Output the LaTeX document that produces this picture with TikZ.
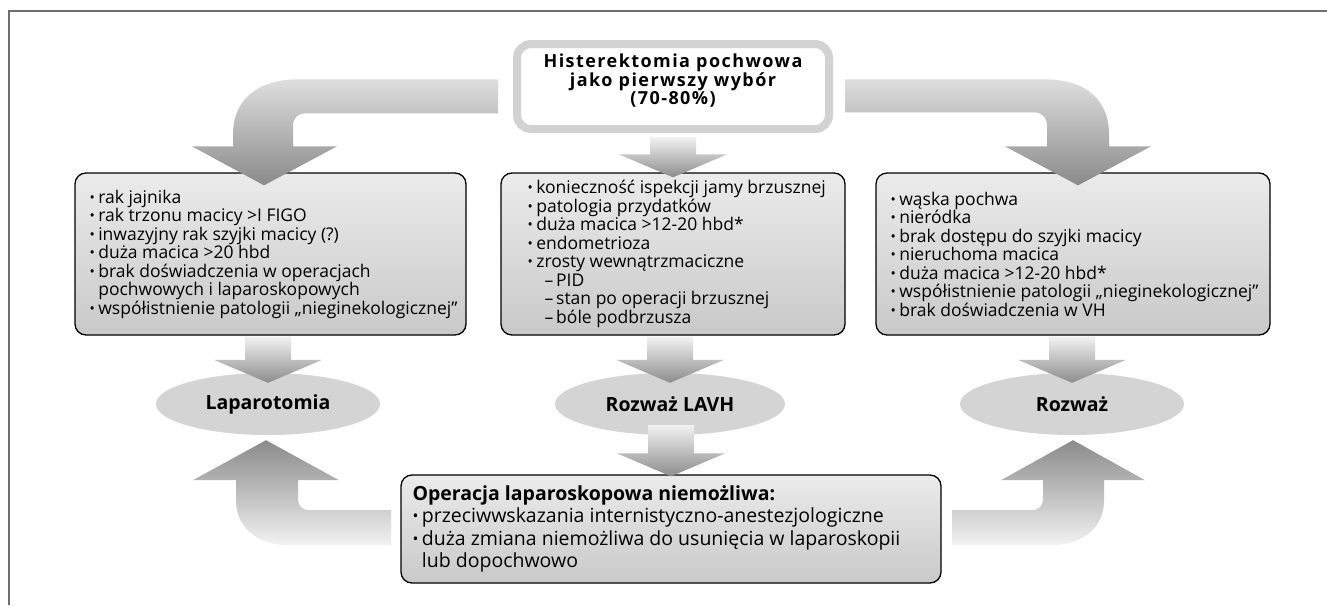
\documentclass[tikz,border=0pt]{standalone}
\usepackage{fontspec}
\setmainfont{Open Sans}
\newfontfamily\titlefont[LetterSpace=8]{Open Sans}
\usetikzlibrary{shapes.geometric,calc}
\definecolor{framec}{HTML}{6E6E6E}
\definecolor{topborder}{HTML}{D2D2D2}
\definecolor{boxtop}{HTML}{EBEBEB}
\definecolor{boxbot}{HTML}{C9C9C9}
\definecolor{ovalc}{HTML}{D4D4D4}
\definecolor{carrtop}{HTML}{DEDEDE}
\definecolor{carrbot}{HTML}{8A8A8A}
\definecolor{sarrtop}{HTML}{F2F2F2}
\definecolor{sarrbot}{HTML}{8C8C8C}
\newcommand\bul{\raisebox{0.1ex}{\scalebox{0.8}{•}}\hspace{3.5pt}}
\newcommand\cont{\hphantom{\bul}}
\newcommand\blockdown[2]{%
  \shade[top color=sarrtop, bottom color=sarrbot]
  let \p1=(#1), \p2=(#2) in
  (\x2-23pt,\y1) -- (\x2+23pt,\y1) -- (\x2+23pt,\y2+23pt) -- (\x2+54pt,\y2+23pt)
  -- (\x2,\y2) -- (\x2-54pt,\y2+23pt) -- (\x2-23pt,\y2+23pt) -- cycle;}
\tikzset{
  topbox/.style={draw=topborder, line width=8pt, rounded corners=14pt, fill=white, inner sep=0pt},
  titletxt/.style={align=center, inner sep=0pt, font=\titlefont\bfseries\fontsize{18}{18.5}\selectfont},
  panel/.style={draw=black, line width=1.3pt, rounded corners=11pt, top color=boxtop, bottom color=boxbot, inner sep=0pt, minimum height=162pt},
  boxtxt/.style={anchor=west, align=left, inner sep=0pt, font=\fontsize{17.5}{18.5}\selectfont},
  bigtxt/.style={anchor=west, align=left, inner sep=0pt, font=\fontsize{19.5}{22.5}\selectfont},
  oval/.style={ellipse, fill=ovalc, inner sep=0pt, minimum height=62pt, font=\bfseries\fontsize{19.5}{22}\selectfont},
  curvarrow/.style={top color=carrtop, bottom color=carrbot},
  uarrow/.style={top color=carrbot, bottom color=sarrtop}
}
\begin{document}
\begin{tikzpicture}[x=1pt,y=-1pt]
\useasboundingbox (0,0) rectangle (1327,605);
\fill[white] (0,0) rectangle (1327,605);
\draw[framec, line width=2pt] (8.5,605) -- (8.5,10.5) -- (1327,10.5);

% top box
\node[topbox, minimum width=312pt, minimum height=85pt] (top) at (673,86.5) {};
\node[titletxt] (title) at (673,81) {Histerektomia pochwowa\\jako pierwszy wybór\\(70-80\%)};

% criteria boxes
\node[panel, minimum width=391pt] (lbox) at (270.5,254) {};
\node[panel, minimum width=344pt] (cbox) at (673,254) {};
\node[panel, minimum width=394pt] (rbox) at (1073,254) {};

\node[boxtxt] (ltxt) at ($(lbox.west)+(15,0)$) {%
\bul rak jajnika\\
\bul rak trzonu macicy >I FIGO\\
\bul inwazyjny rak szyjki macicy (?)\\
\bul duża macica >20 hbd\\
\bul brak doświadczenia w operacjach\\
\cont pochwowych i laparoskopowych\\
\bul współistnienie patologii „nieginekologicznej”};

\node[boxtxt] (ctxt) at ($(cbox.west)+(27,0)$) {%
\bul konieczność ispekcji jamy brzusznej\\
\bul patologia przydatków\\
\bul duża macica >12-20 hbd*\\
\bul endometrioza\\
\bul zrosty wewnątrzmaciczne\\
\hspace*{17pt}–\,PID\\
\hspace*{17pt}–\,stan po operacji brzusznej\\
\hspace*{17pt}–\,bóle podbrzusza};

\node[boxtxt] (rtxt) at ($(rbox.west)+(15,0)$) {%
\bul wąska pochwa\\
\bul nieródka\\
\bul brak dostępu do szyjki macicy\\
\bul nieruchoma macica\\
\bul duża macica >12-20 hbd*\\
\bul współistnienie patologii „nieginekologicznej”\\
\bul brak doświadczenia w VH};

% outcome ovals
\node[oval, minimum width=224pt] (lell) at (268,404) {Laparotomia};
\node[oval, minimum width=230pt] (cell) at (670,404) {Rozważ LAVH};
\node[oval, minimum width=224pt] (rell) at (1072,404) {Rozważ};

% bottom box
\node[panel, minimum width=540pt, minimum height=108pt] (bbox) at (671,529) {};
\node[bigtxt] (btxt) at ($(bbox.west)+(12,0)$) {%
\textbf{Operacja laparoskopowa niemożliwa:}\\
\bul przeciwwskazania internistyczno-anestezjologiczne\\
\bul duża zmiana niemożliwa do usunięcia w laparoskopii\\
\cont lub dopochwowo};

% curved arrows from top box
\begin{scope}[shift={(lbox.north)}]
\shade[curvarrow] (227.5,-93) -- (27.5,-93) .. controls (-12.5,-93) and (-37.5,-73) .. (-37.5,-38)
  -- (-37.5,-26) -- (-78.5,-26) -- (-6.5,13) -- (66.5,-26) -- (22.5,-26) -- (22.5,-46)
  .. controls (22.5,-55) and (27.5,-59) .. (35.5,-59) -- (227.5,-59) -- cycle;
\end{scope}
\begin{scope}[shift={(rbox.north)}]
\shade[curvarrow] (-228,-93) -- (-28,-93) .. controls (12,-93) and (36,-73) .. (36,-38)
  -- (36,-26) -- (78,-26) -- (5,13) -- (-68,-26) -- (-26,-26) -- (-26,-46)
  .. controls (-26,-55) and (-31,-60) .. (-39,-60) -- (-228,-60) -- cycle;
\end{scope}
\blockdown{$(top.south)+(0,4)$}{$(cbox.north)+(0,5)$}

% arrows to ovals
\blockdown{$(lbox.south)+(0,1)$}{$(lell.north)+(0,10)$}
\blockdown{$(cbox.south)+(0,1)$}{$(cell.north)+(0,10)$}
\blockdown{$(rbox.south)+(0,1)$}{$(rell.north)+(0,10)$}
\blockdown{$(cell.south)+(0,-10)$}{$(bbox.north)+(0,2)$}

% U-arrows from bottom box
\begin{scope}[shift={(lell.south)}]
\shade[uarrow] (123,110) -- (22,110) .. controls (-10,110) and (-32,93) .. (-32,65)
  -- (-32,45) -- (-75,45) -- (-2,5) -- (71,45) -- (30,45) -- (30,63)
  .. controls (30,71) and (34,75) .. (42,75) -- (123,75) -- cycle;
\end{scope}
\begin{scope}[shift={(rell.south)}]
\shade[uarrow] (-120,110) -- (-22,110) .. controls (10,110) and (32,93) .. (32,65)
  -- (32,45) -- (73,45) -- (1,5) -- (-71,45) -- (-29,45) -- (-29,63)
  .. controls (-29,71) and (-33,75) .. (-41,75) -- (-120,75) -- cycle;
\end{scope}
\end{tikzpicture}
\end{document}
